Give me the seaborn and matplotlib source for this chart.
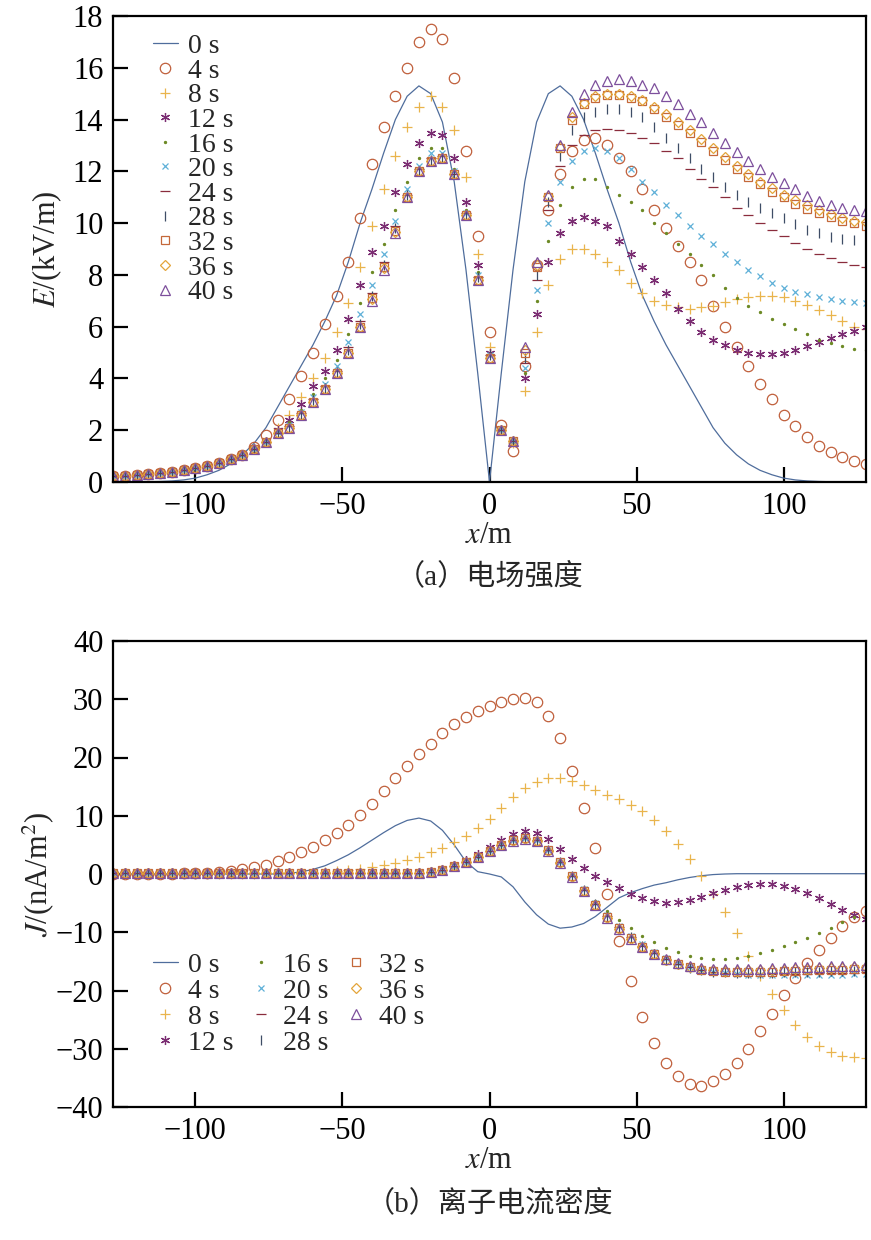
import matplotlib
matplotlib.use('Agg')
from matplotlib import pyplot as plt
import seaborn as sns

# ========================== данные ========================== #
x_pos = list(range(-128, 129, 4))   # m

# --- (a) E, kV/m ---
E_far_left = [0.22, 0.25, 0.28, 0.31, 0.34, 0.39, 0.45, 0.53, 0.62, 0.74, 0.88, 1.05, 1.27, 1.55]  # x=-128..-76

E_0s = [0.0, 0.0, 0.0, 0.01, 0.02, 0.04, 0.08, 0.15, 0.28, 0.45, 0.7, 1.05, 1.5, 2.1, 2.9, 3.7,
        4.5, 5.3, 6.2, 7.2, 8.5, 10.0, 11.3, 12.7, 14.0, 14.9, 15.3, 15.0, 13.9, 11.6, 8.2, 4.2,
        0.0,
        4.2, 8.2, 11.6, 13.9, 15.0, 15.3, 14.9, 14.0, 12.7, 11.3, 10.0, 8.5, 7.2, 6.2, 5.3, 4.5,
        3.7, 2.9, 2.1, 1.5, 1.05, 0.7, 0.45, 0.28, 0.15, 0.08, 0.04, 0.02, 0.01, 0.0, 0.0, 0.0]
E_4s = E_far_left[:12] + [1.35, 1.8] + \
    [2.4, 3.2, 4.1, 5.0, 6.1, 7.2, 8.5, 10.2, 12.3, 13.7, 14.9, 16.0, 17.0, 17.5, 17.1, 15.6, 12.8, 9.5, 5.8] + \
    [2.2, 1.2, 4.5, 8.4, 10.5, 11.9, 12.8, 13.2, 13.3, 13.0, 12.5, 12.0, 11.3, 10.5, 9.8, 9.1,
     8.5, 7.8, 6.8, 6.0, 5.2, 4.5, 3.8, 3.2, 2.6, 2.15, 1.75, 1.4, 1.15, 0.95, 0.8, 0.7]
E_8s = E_far_left + \
    [2.1, 2.6, 3.3, 4.0, 4.8, 5.8, 6.9, 8.3, 9.9, 11.3, 12.6, 13.7, 14.5, 14.9, 14.5, 13.6, 11.8, 8.8, 5.2] + \
    [2.0, 1.5, 3.5, 5.8, 7.6, 8.6, 9.0, 9.0, 8.8, 8.5, 8.2, 7.7, 7.3, 7.0, 6.85, 6.75,
     6.7, 6.75, 6.8, 6.95, 7.05, 7.15, 7.2, 7.2, 7.15, 7.0, 6.85, 6.65, 6.45, 6.2, 6.0, 5.9]
E_12s = E_far_left + \
    [2.0, 2.4, 3.0, 3.7, 4.3, 5.1, 6.3, 7.6, 8.9, 9.9, 11.2, 12.3, 13.1, 13.5, 13.4, 12.5, 10.8, 8.4, 5.0] + \
    [2.0, 1.6, 4.0, 6.5, 8.5, 9.6, 10.1, 10.25, 10.1, 9.9, 9.3, 8.8, 8.3, 7.8, 7.3, 6.7,
     6.2, 5.8, 5.5, 5.3, 5.1, 5.0, 4.95, 4.95, 5.0, 5.1, 5.25, 5.4, 5.55, 5.7, 5.85, 6.0]
E_16s = E_far_left + \
    [1.95, 2.3, 2.8, 3.4, 4.0, 4.7, 5.7, 6.9, 8.1, 9.2, 10.5, 11.6, 12.5, 12.9, 12.9, 12.1, 10.5, 8.1, 4.9] + \
    [2.0, 1.6, 4.2, 7.0, 9.3, 10.7, 11.4, 11.7, 11.7, 11.4, 11.1, 10.8, 10.5, 10.0, 9.6, 9.2,
     8.8, 8.4, 8.0, 7.5, 7.1, 6.8, 6.55, 6.3, 6.1, 5.9, 5.7, 5.5, 5.35, 5.25, 5.15, 5.1]
E_20s = E_far_left + \
    [1.95, 2.2, 2.7, 3.3, 3.8, 4.5, 5.4, 6.5, 7.6, 8.8, 10.1, 11.3, 12.2, 12.7, 12.7, 12.0, 10.4, 8.0, 4.9] + \
    [2.0, 1.6, 4.4, 7.4, 10.0, 11.6, 12.4, 12.8, 12.9, 12.8, 12.5, 12.1, 11.6, 11.2, 10.7, 10.3,
     9.9, 9.5, 9.2, 8.8, 8.5, 8.2, 7.95, 7.7, 7.5, 7.35, 7.25, 7.15, 7.05, 7.0, 6.95, 6.9]
E_24s = E_far_left + \
    [1.9, 2.15, 2.65, 3.2, 3.7, 4.3, 5.2, 6.2, 7.3, 8.5, 9.9, 11.1, 12.1, 12.5, 12.6, 11.9, 10.4, 7.9, 4.9] + \
    [2.0, 1.6, 4.6, 7.8, 10.5, 12.2, 13.0, 13.4, 13.6, 13.65, 13.6, 13.5, 13.3, 13.1, 12.8, 12.5,
     12.1, 11.7, 11.4, 11.0, 10.6, 10.3, 10.0, 9.75, 9.5, 9.25, 9.0, 8.8, 8.65, 8.5, 8.4, 8.3]
E_28s = E_far_left + \
    [1.9, 2.1, 2.6, 3.15, 3.65, 4.25, 5.1, 6.1, 7.2, 8.4, 9.8, 11.1, 12.0, 12.45, 12.5, 11.9, 10.3, 7.9, 4.9] + \
    [2.0, 1.6, 4.8, 8.0, 10.8, 12.6, 13.6, 14.1, 14.3, 14.4, 14.4, 14.3, 14.1, 13.7, 13.3, 12.9,
     12.5, 12.1, 11.8, 11.4, 11.1, 10.8, 10.6, 10.4, 10.2, 9.95, 9.75, 9.6, 9.45, 9.4, 9.35, 9.3]
E_32s = E_far_left + \
    [1.9, 2.1, 2.6, 3.1, 3.6, 4.2, 5.0, 6.0, 7.1, 8.3, 9.7, 11.0, 12.0, 12.4, 12.5, 11.9, 10.3, 7.8, 4.8] + \
    [2.0, 1.6, 5.0, 8.3, 11.0, 12.9, 14.0, 14.6, 14.85, 14.95, 14.95, 14.85, 14.7, 14.4, 14.1, 13.8,
     13.5, 13.15, 12.8, 12.45, 12.1, 11.8, 11.5, 11.2, 11.0, 10.75, 10.55, 10.4, 10.25, 10.1, 10.0, 9.9]
E_36s = E_far_left + \
    [1.9, 2.1, 2.6, 3.1, 3.6, 4.2, 5.0, 6.0, 7.05, 8.25, 9.65, 11.0, 12.0, 12.4, 12.5, 11.9, 10.3, 7.8, 4.8] + \
    [2.0, 1.6, 5.1, 8.4, 11.05, 12.95, 14.1, 14.65, 14.9, 15.0, 15.0, 14.9, 14.75, 14.5, 14.2, 13.9,
     13.6, 13.25, 12.9, 12.55, 12.2, 11.9, 11.6, 11.35, 11.1, 10.9, 10.7, 10.5, 10.35, 10.2, 10.1, 10.05]
E_40s = E_far_left + \
    [1.9, 2.1, 2.6, 3.1, 3.6, 4.2, 5.0, 6.0, 7.0, 8.2, 9.6, 11.0, 12.0, 12.4, 12.5, 11.9, 10.3, 7.8, 4.8] + \
    [2.0, 1.6, 5.2, 8.5, 11.1, 13.0, 14.3, 15.0, 15.35, 15.5, 15.55, 15.5, 15.35, 15.2, 14.9, 14.6,
     14.2, 13.9, 13.5, 13.1, 12.75, 12.4, 12.1, 11.8, 11.55, 11.3, 11.05, 10.85, 10.7, 10.6, 10.5, 10.45]

# --- (b) J, nA/m^2 ---
J_0s = [0.0, 0.0, 0.0, 0.0, 0.0, 0.0, 0.0, 0.0, 0.0, 0.0, 0.0, 0.0, 0.0, 0.0, 0.0,
        0.15, 0.35, 0.8, 1.4, 2.3, 3.3, 4.5, 5.8, 7.1, 8.3, 9.2, 9.6, 9.1, 7.5, 5.0, 2.1, 0.4, 0.0,
        -0.5, -2.2, -4.8, -7.0, -8.6, -9.3, -9.1, -8.5, -7.3, -5.7, -4.1, -3.2, -2.5, -1.9, -1.5, -1.0,
        -0.6, -0.3, -0.1, 0.0, 0.05, 0.05, 0.05, 0.05, 0.05, 0.05, 0.05, 0.05, 0.05, 0.05, 0.05, 0.05]
J_4s = [0.05, 0.05, 0.05, 0.06, 0.07, 0.08, 0.1, 0.14, 0.22,
        0.35, 0.55, 0.85, 1.2, 1.6, 2.2, 2.9, 3.7, 4.7, 5.8, 7.0, 8.4, 10.1, 12.0, 14.2, 16.5,
        18.6, 20.6, 22.4, 24.2, 25.7, 26.9, 27.9, 28.8,
        29.5, 30.0, 30.2, 29.5, 27.2, 23.3, 17.6, 11.4, 4.5, -3.5, -11.5, -18.4, -24.6, -29.0, -32.5, -34.7,
        -36.0, -36.4, -35.6, -34.3, -32.5, -30.0, -27.0, -24.0, -20.8, -17.9, -15.3, -13.0, -11.0, -9.0, -7.4, -6.3]
J_8s = [0.05, 0.05, 0.05, 0.05, 0.05, 0.05, 0.05, 0.05, 0.05, 0.06, 0.06, 0.07, 0.08, 0.09, 0.1, 0.12, 0.15, 0.2,
        0.3, 0.45, 0.65, 0.9, 1.2, 1.5, 1.9, 2.4, 3.0, 3.7, 4.5, 5.5, 6.6, 7.9, 9.5,
        11.3, 13.2, 14.7, 15.8, 16.4, 16.5, 16.0, 15.2, 14.4, 13.6, 12.8, 11.9, 10.8, 9.3, 7.4, 5.2,
        2.6, -0.4, -3.4, -6.6, -10.2, -14.0, -17.5, -20.6, -23.4, -25.9, -28.0, -29.6, -30.6, -31.2, -31.5, -31.6]
J_flat_left = [0.1, 0.1, 0.1, 0.1, 0.1, 0.1, 0.1, 0.1, 0.1, 0.1, 0.1, 0.1,
               0.1, 0.1, 0.1, 0.1, 0.1, 0.1, 0.1, 0.1, 0.1, 0.1, 0.1]   # x=-128..-40
J_band_rise = [0.1, 0.12, 0.15, 0.22, 0.35, 0.7, 1.3, 2.1, 3.0, 4.0]   # x=-36..0
J_12s = J_flat_left + [0.12, 0.15, 0.2, 0.3, 0.45, 0.8, 1.5, 2.4, 3.5, 4.6] + \
    [5.8, 6.8, 7.3, 7.1, 6.0, 4.3, 2.5, 1.0, -0.3, -1.4, -2.4, -3.4, -4.2, -4.7, -4.9, -4.8,
     -4.4, -3.9, -3.3, -2.8, -2.3, -1.95, -1.8, -1.8, -2.0, -2.5, -3.2, -4.1, -5.1, -6.1, -7.0, -7.8]
J_16s = J_flat_left + J_band_rise + \
    [5.1, 5.9, 6.4, 6.0, 4.4, 2.3, 0.0, -2.4, -4.6, -6.3, -7.9, -9.3, -10.6, -11.7, -12.7, -13.4,
     -14.0, -14.4, -14.6, -14.6, -14.4, -14.0, -13.5, -13.0, -12.4, -11.7, -11.0, -10.1, -9.2, -8.3, -7.4, -6.6]
J_20s = J_flat_left + J_band_rise + \
    [5.0, 5.8, 6.2, 5.8, 4.2, 2.1, -0.2, -2.6, -5.0, -7.0, -8.9, -10.6, -12.1, -13.4, -14.4, -15.3,
     -15.9, -16.4, -16.8, -17.0, -17.2, -17.3, -17.35, -17.4, -17.4, -17.4, -17.4, -17.35, -17.3, -17.3, -17.25, -17.2]
J_24s = J_flat_left + J_band_rise + \
    [5.0, 5.8, 6.2, 5.8, 4.2, 2.1, -0.3, -2.7, -5.1, -7.2, -9.1, -10.8, -12.3, -13.6, -14.6, -15.4,
     -16.0, -16.5, -16.8, -17.0, -17.1, -17.15, -17.2, -17.2, -17.15, -17.1, -17.1, -17.05, -17.0, -17.0, -16.95, -16.9]
J_28s = J_flat_left + J_band_rise + \
    [5.0, 5.8, 6.2, 5.8, 4.2, 2.1, -0.3, -2.8, -5.2, -7.3, -9.2, -10.9, -12.4, -13.7, -14.7, -15.5,
     -16.1, -16.5, -16.8, -16.9, -17.0, -17.0, -17.0, -17.0, -16.9, -16.85, -16.8, -16.75, -16.7, -16.65, -16.6, -16.55]
J_32s = J_flat_left + J_band_rise + \
    [5.0, 5.8, 6.1, 5.7, 4.1, 2.0, -0.4, -2.9, -5.3, -7.4, -9.3, -11.0, -12.5, -13.8, -14.8, -15.5,
     -16.0, -16.4, -16.7, -16.8, -16.85, -16.85, -16.8, -16.75, -16.7, -16.6, -16.55, -16.5, -16.45, -16.4, -16.35, -16.3]
J_36s = J_flat_left + J_band_rise + \
    [5.0, 5.7, 6.0, 5.6, 4.0, 1.9, -0.5, -3.0, -5.4, -7.5, -9.4, -11.1, -12.6, -13.8, -14.8, -15.5,
     -16.0, -16.3, -16.5, -16.6, -16.6, -16.55, -16.5, -16.45, -16.4, -16.3, -16.25, -16.2, -16.15, -16.1, -16.05, -16.0]
J_40s = J_flat_left + J_band_rise + \
    [5.0, 5.7, 6.0, 5.6, 4.0, 1.9, -0.5, -3.0, -5.4, -7.5, -9.4, -11.1, -12.5, -13.7, -14.6, -15.3,
     -15.8, -16.1, -16.3, -16.35, -16.35, -16.3, -16.25, -16.2, -16.1, -16.0, -15.95, -15.9, -15.85, -15.8, -15.75, -15.7]

labels = ['0 s', '4 s', '8 s', '12 s', '16 s', '20 s', '24 s', '28 s', '32 s', '36 s', '40 s']
E_series = [E_0s, E_4s, E_8s, E_12s, E_16s, E_20s, E_24s, E_28s, E_32s, E_36s, E_40s]
J_series = [J_0s, J_4s, J_8s, J_12s, J_16s, J_20s, J_24s, J_28s, J_32s, J_36s, J_40s]
for s in E_series + J_series:
    assert len(s) == len(x_pos), len(s)

# стиль каждой серии: цвет, маркер, размер, заливка
styles = [
    ('#4f6d9c', None, 0, False),
    ('#c0603c', 'o', 7.5, False),
    ('#e9b44c', '+', 7.5, False),
    ('#7b2d72', (6, 2, 0), 6.5, False),
    ('#6d8a26', '.', 3.0, True),
    ('#5fb0d8', 'x', 5.0, False),
    ('#8a2c3c', '_', 7.5, False),
    ('#3e4d66', '|', 7.5, False),
    ('#c4683a', 's', 6.0, False),
    ('#e3a43a', 'D', 5.5, False),
    ('#7d4f9c', '^', 6.5, False),
]

# ========================== оформление ========================== #
sns.set_theme(style='ticks')
plt.rcParams['font.family'] = ['Liberation Serif', 'Noto Sans CJK SC']
plt.rcParams['mathtext.fontset'] = 'stix'
plt.rcParams['axes.unicode_minus'] = True

FS = 22
FS_LEG = 20

fig = plt.figure(figsize=(8.71, 12.40), dpi=100)
ax_a = fig.add_axes([113 / 871, 1 - 482 / 1240, 753 / 871, 466 / 1240])
ax_b = fig.add_axes([113 / 871, 1 - 1107 / 1240, 753 / 871, 466 / 1240])


def draw(ax, series):
    for lab, vals, (col, mk, ms, filled) in zip(labels, series, styles):
        if mk is None:
            sns.lineplot(x=x_pos, y=vals, ax=ax, color=col, linewidth=0.9,
                         label=lab, sort=False, estimator=None)
        else:
            sns.lineplot(x=x_pos, y=vals, ax=ax, color=col, marker=mk, linestyle='none',
                         markersize=ms, markerfacecolor=col if filled else 'none',
                         markeredgecolor=col, markeredgewidth=0.9,
                         label=lab, sort=False, estimator=None)


def style_axis(ax):
    for sp in ax.spines.values():
        sp.set_linewidth(1.6)
        sp.set_color('black')
    ax.tick_params(axis='both', which='major', direction='in', length=11, width=1.6,
                   labelsize=FS, top=False, right=False, pad=7, colors='black')
    ax.set_xlim(-128, 128)
    ax.set_xticks([-100, -50, 0, 50, 100])
    ax.set_xlabel('$x$/m', fontsize=FS, labelpad=0)
    ax.grid(False)


# 1. (a) напряжённость поля
draw(ax_a, E_series)
style_axis(ax_a)
ax_a.set_ylim(0, 18)
ax_a.set_yticks(range(0, 19, 2))
ax_a.set_ylabel('$E$/(kV/m)', fontsize=FS, labelpad=6)
ax_a.legend(loc='upper left', bbox_to_anchor=(0.053, 0.962), frameon=False, fontsize=FS_LEG,
            handlelength=0.9, handletextpad=0.35, labelspacing=-0.03, borderpad=0,
            borderaxespad=0)

# 2. (b) плотность ионного тока
draw(ax_b, J_series)
style_axis(ax_b)
ax_b.set_ylim(-40, 40)
ax_b.set_yticks(range(-40, 41, 10))
ax_b.set_ylabel('$J$/(nA/m$^2$)', fontsize=FS, labelpad=0)
ax_b.legend(loc='upper left', bbox_to_anchor=(0.053, 0.332), frameon=False, fontsize=FS_LEG,
            ncol=3, handlelength=0.9, handletextpad=0.35, labelspacing=0.02,
            columnspacing=0.55, borderpad=0, borderaxespad=0)

fig.text(490 / 871, 1 - 576 / 1240, '（a）电场强度', ha='center', va='center', fontsize=21)
fig.text(490 / 871, 1 - 1203 / 1240, '（b）离子电流密度', ha='center', va='center', fontsize=21)

fig.savefig('out.png', dpi=100)
